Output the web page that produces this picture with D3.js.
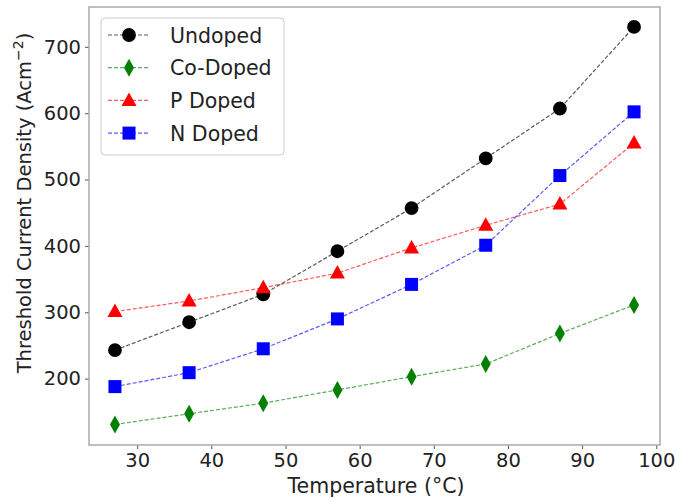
<!DOCTYPE html>
<html>
<head>
<meta charset="utf-8">
<script src="https://cdn.jsdelivr.net/npm/d3@7"></script>
<style>
  body { margin: 0; background: #fff; }
  svg text { font-family: "DejaVu Sans", sans-serif; fill: #222; }
</style>
</head>
<body>
<svg id="chart" width="682" height="499"></svg>
<script>
var temperatures = [27, 37, 47, 57, 67, 77, 87, 97];
var undoped = [243, 285, 327, 392, 457, 532, 607, 730];
var coDoped = [131, 147, 163, 183, 203, 222, 268, 311];
var pDoped = [301, 317, 337, 359, 397, 431, 463, 555];
var nDoped = [188, 209, 245, 290, 342, 401, 506, 602];
var xTicks = [30, 40, 50, 60, 70, 80, 90, 100];
var yTicks = [200, 300, 400, 500, 600, 700];

var seriesList = [
    { name: "Undoped", values: undoped, color: "#000000", marker: "circle" },
    { name: "Co-Doped", values: coDoped, color: "#008000", marker: "diamond" },
    { name: "P Doped", values: pDoped, color: "#ff0000", marker: "triangle" },
    { name: "N Doped", values: nDoped, color: "#0000ff", marker: "square" }
];

(function () {
    'use strict';
    const left = 89, right = 660, top = 7, bottom = 445;
    const svg = d3.select("#chart");

    const x = d3.scaleLinear().domain([23.5, 100.5]).range([left, right]);
    const y = d3.scaleLinear().domain([100, 760]).range([bottom, top]);

    // axes
    const xAxis = svg.append("g")
        .attr("transform", "translate(0," + bottom + ")")
        .call(d3.axisBottom(x).tickValues(xTicks).tickSize(4).tickPadding(4));
    const yAxis = svg.append("g")
        .attr("transform", "translate(" + left + ",0)")
        .call(d3.axisLeft(y).tickValues(yTicks).tickSize(4).tickPadding(4));
    [xAxis, yAxis].forEach(function (ax) {
        ax.select(".domain").remove();
        ax.selectAll("line").attr("stroke", "#555");
        ax.selectAll("text").style("font-size", "19.5px").attr("fill", "#222");
    });

    svg.append("rect")
        .attr("x", left).attr("y", top)
        .attr("width", right - left).attr("height", bottom - top)
        .attr("fill", "none").attr("stroke", "#aaa").attr("stroke-width", 1.5);

    svg.append("text")
        .attr("x", 376).attr("y", 493)
        .attr("text-anchor", "middle").style("font-size", "20.5px")
        .text("Temperature (°C)");

    const yl = svg.append("text")
        .attr("transform", "translate(31," + 203 + ") rotate(-90)")
        .attr("text-anchor", "middle").style("font-size", "19.5px");
    yl.append("tspan").text("Threshold Current Density (Acm");
    yl.append("tspan").attr("dy", -8).style("font-size", "14px").text("−2");
    yl.append("tspan").attr("dy", 8).text(")");

    const line = d3.line()
        .x(function (d, i) { return x(temperatures[i]); })
        .y(function (d) { return y(d); });

    function markerPath(type) {
        if (type === "circle") return d3.symbol(d3.symbolCircle, 150)();
        if (type === "square") return "M-6.5,-6.5H6.5V6.5H-6.5Z";
        if (type === "triangle") return "M0,-8L7.5,5.5L-7.5,5.5Z";
        return "M0,-9L5,0L0,9L-5,0Z";
    }

    seriesList.forEach(function (s) {
        const g = svg.append("g");
        g.append("path")
            .datum(s.values)
            .attr("d", line)
            .attr("fill", "none")
            .attr("stroke", s.color)
            .attr("stroke-opacity", 0.65)
            .attr("stroke-width", 1.2)
            .attr("stroke-dasharray", "4,2");
        g.selectAll(".pt").data(s.values).enter().append("path")
            .attr("class", "pt")
            .attr("d", markerPath(s.marker))
            .attr("transform", function (d, i) {
                return "translate(" + x(temperatures[i]) + "," + y(d) + ")";
            })
            .attr("fill", s.color);
    });

    // legend
    const lg = svg.append("g");
    lg.append("rect")
        .attr("x", 101).attr("y", 18).attr("width", 183).attr("height", 137)
        .attr("rx", 4).attr("fill", "#fff").attr("fill-opacity", 0.85)
        .attr("stroke", "#ccc");
    seriesList.forEach(function (s, i) {
        const cy = 35 + i * 32.7;
        lg.append("line")
            .attr("x1", 108).attr("x2", 150).attr("y1", cy).attr("y2", cy)
            .attr("stroke", s.color).attr("stroke-opacity", 0.65)
            .attr("stroke-width", 1.2).attr("stroke-dasharray", "4,2");
        lg.append("path")
            .attr("d", markerPath(s.marker))
            .attr("transform", "translate(129," + cy + ")")
            .attr("fill", s.color);
        lg.append("text")
            .attr("x", 170).attr("y", cy + 7.5)
            .style("font-size", "20.5px")
            .text(s.name);
    });
})();
</script>
</body>
</html>
